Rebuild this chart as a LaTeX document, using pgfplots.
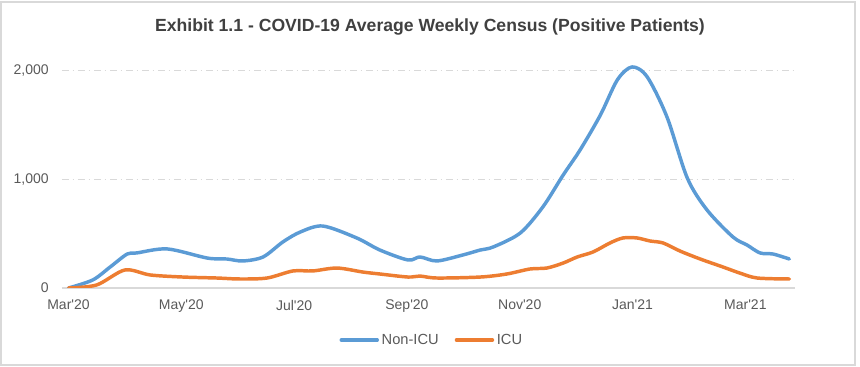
\documentclass[border=0pt]{standalone}
\usepackage{pgfplots}
\pgfplotsset{compat=1.18}
\usepackage{fontspec}
\setmainfont{Liberation Sans}[Ligatures=TeXOff]
\definecolor{cblue}{HTML}{5B9BD5}
\definecolor{corange}{HTML}{ED7D31}
\definecolor{txt}{HTML}{595959}
\definecolor{gridc}{HTML}{D9D9D9}
\definecolor{titlec}{HTML}{404040}
\begin{document}
\begin{tikzpicture}
\useasboundingbox (0,0) rectangle (645pt,275.25pt);
\draw[gridc, line width=0.8pt] (0.75pt,1.5pt) rectangle (641.25pt,273.75pt);
\node[font=\fontsize{13.2}{15}\selectfont\bfseries, text=titlec] at (322.5pt,255pt) {Exhibit 1.1 - COVID-19 Average Weekly Census (Positive Patients)};
\begin{axis}[
  at={(46.5pt,59.25pt)}, anchor=south west,
  scale only axis, width=549.75pt, height=175pt,
  xmin=-0.115, xmax=12.88, ymin=0, ymax=2150,
  axis x line*=bottom, axis y line*=left,
  y axis line style={draw=none},
  x axis line style={gridc, line width=0.8pt, -},
  major tick length=0pt,
  ytick={0,1000,2000},
  /pgf/number format/assume math mode=true,
  /pgf/number format/1000 sep={,},
  xtick={0,2,4,6,8,10,12},
  xticklabels={Mar'20,May'20,Jul'20,Sep'20,Nov'20,Jan'21,Mar'21},
  ticklabel style={font=\fontsize{10.5}{12}\selectfont, text=txt},
  yticklabel style={xshift=-6.5pt},
  xticklabel style={yshift=-5.5pt},
  ymajorgrids,
  grid style={gridc, line width=0.8pt, dash pattern=on 5pt off 3pt on 1pt off 3pt},
  legend style={at={(0.505,-0.223)}, anchor=center, draw=none, fill=none,
    font=\fontsize{11}{13}\selectfont, text=txt, legend columns=2,
    /tikz/every even column/.append style={column sep=10pt}},
  legend image code/.code={\draw[#1, line cap=round] (0pt,0pt) -- (27pt,0pt);},
  every axis plot/.append style={line width=2.6pt, line cap=round, line join=round},
]
\addplot[cblue, smooth] coordinates {
(0,0) (0.43,74) (0.74,194) (1.04,313) (1.21,323) (1.75,360) (2.46,276) (2.81,267)
(3.09,249) (3.45,286) (3.80,424) (4.11,516) (4.51,571) (5.11,461) (5.52,350)
(6.02,258) (6.23,286) (6.53,249) (6.99,304) (7.30,350) (7.53,378) (8.01,507)
(8.41,747) (8.77,1041) (9.07,1272) (9.43,1594) (9.73,1917) (9.99,2037) (10.26,1945)
(10.61,1576) (10.97,1014) (11.32,719) (11.78,470) (12.03,396) (12.26,323) (12.49,313) (12.78,267)
};
\addlegendentry{Non-ICU}
\addplot[corange, smooth] coordinates {
(0,0) (0.5,28) (1.0,166) (1.45,120) (2.03,101) (2.63,92) (3.04,83) (3.52,92)
(3.98,157) (4.33,157) (4.76,184) (5.22,147) (5.52,129) (6.02,101) (6.23,110)
(6.53,92) (7.30,101) (7.77,129) (8.18,175) (8.48,184) (8.77,230) (9.02,286)
(9.30,332) (9.60,415) (9.83,461) (10.08,461) (10.31,433) (10.54,415) (10.84,341)
(11.20,267) (11.60,194) (11.90,138) (12.21,92) (12.78,83)
};
\addlegendentry{ICU}
\end{axis}
\end{tikzpicture}
\end{document}
